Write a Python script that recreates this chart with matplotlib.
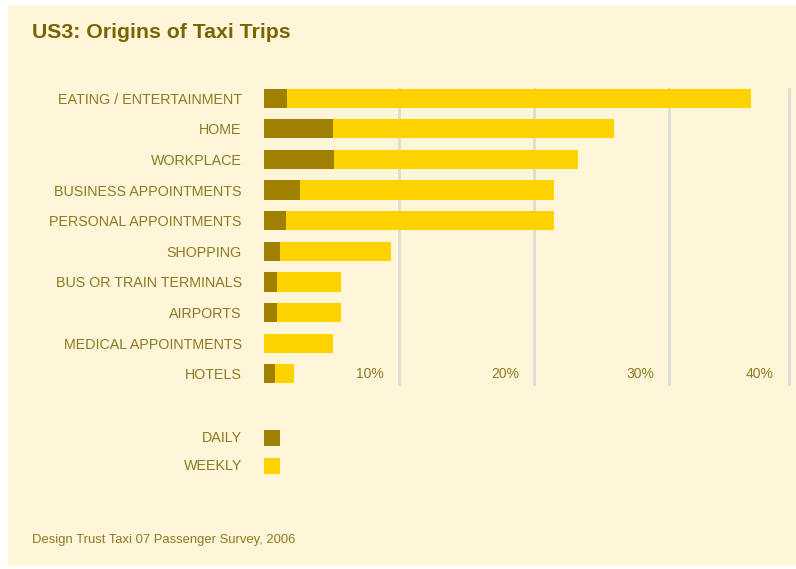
import matplotlib
matplotlib.use("Agg")
import matplotlib.pyplot as plt
from matplotlib.patches import Rectangle

# values in percent
categories = ["EATING / ENTERTAINMENT", "HOME", "WORKPLACE", "BUSINESS APPOINTMENTS",
              "PERSONAL APPOINTMENTS", "SHOPPING", "BUS OR TRAIN TERMINALS", "AIRPORTS",
              "MEDICAL APPOINTMENTS", "HOTELS"]
daily = [1.7, 5.1, 5.2, 2.7, 1.6, 1.2, 1.0, 1.0, 0.0, 0.8]
weekly = [34.4, 20.8, 18.1, 18.8, 19.9, 8.2, 4.7, 4.7, 5.1, 1.4]
tick_values = [10, 20, 30, 40]
tick_labels = ["10%", "20%", "30%", "40%"]

W, H = 796, 569
bg = "#FFF5D8"
c_daily = "#A08000"
c_weekly = "#FFD200"
c_text = "#8C7A22"
c_title = "#7A6400"
c_grid = "#DEDCD6"

plt.rcParams['font.family'] = ['Liberation Sans', 'DejaVu Sans']

fig = plt.figure(figsize=(W / 100, H / 100), dpi=100)
fig.patch.set_facecolor("white")
fig.add_artist(Rectangle((8 / W, 3 / H), 1, 1 - 8 / H, transform=fig.transFigure,
                         facecolor=bg, edgecolor="none", zorder=-10))

def fx(px):
    return px / W

def fy(py):
    return 1 - py / H

x0, x1 = 264, 789
top, bottom = 88.5, 383.5
ax = fig.add_axes([fx(x0), fy(bottom), fx(x1 - x0), (bottom - top) / H])
ax.set_facecolor("none")
xmax = 38.9
ax.set_xlim(0, xmax)
ax.set_ylim(len(categories) - 1 + 0.31, -0.31)

ypos = list(range(len(categories)))
ax.barh(ypos, daily, height=0.62, color=c_daily, zorder=3)
ax.barh(ypos, weekly, left=daily, height=0.62, color=c_weekly, zorder=3)

for v in tick_values:
    ax.axvline(min(v, xmax), color=c_grid, lw=2, zorder=1, clip_on=False)

for v, lab in zip(tick_values, tick_labels):
    ax.annotate(lab, (min(v, xmax), len(categories) - 1), xytext=(-15, 0),
                textcoords="offset pixels", ha="right", va="center",
                fontsize=10, color=c_text)

ax.set_yticks(ypos)
ax.set_yticklabels(categories, fontsize=10.3, color=c_text)
ax.tick_params(axis="y", length=0, pad=16)
ax.set_xticks([])
for s in ax.spines.values():
    s.set_visible(False)

fig.text(fx(32), fy(33), "US3: Origins of Taxi Trips", fontsize=15.3, fontweight="bold",
         color=c_title, ha="left", va="center")

# legend
for i, (lab, col) in enumerate([("DAILY", c_daily), ("WEEKLY", c_weekly)]):
    yc = 438 + i * 28
    fig.add_artist(Rectangle((fx(264), fy(yc + 8)), 16 / W, 16 / H,
                             transform=fig.transFigure, facecolor=col, edgecolor="none"))
    fig.text(fx(242), fy(yc), lab, fontsize=10.3, color=c_text, ha="right", va="center")

fig.text(fx(32), fy(540), "Design Trust Taxi 07 Passenger Survey, 2006", fontsize=9.35,
         color=c_text, ha="left", va="center")

fig.savefig("out.png", dpi=100, facecolor=fig.get_facecolor())
